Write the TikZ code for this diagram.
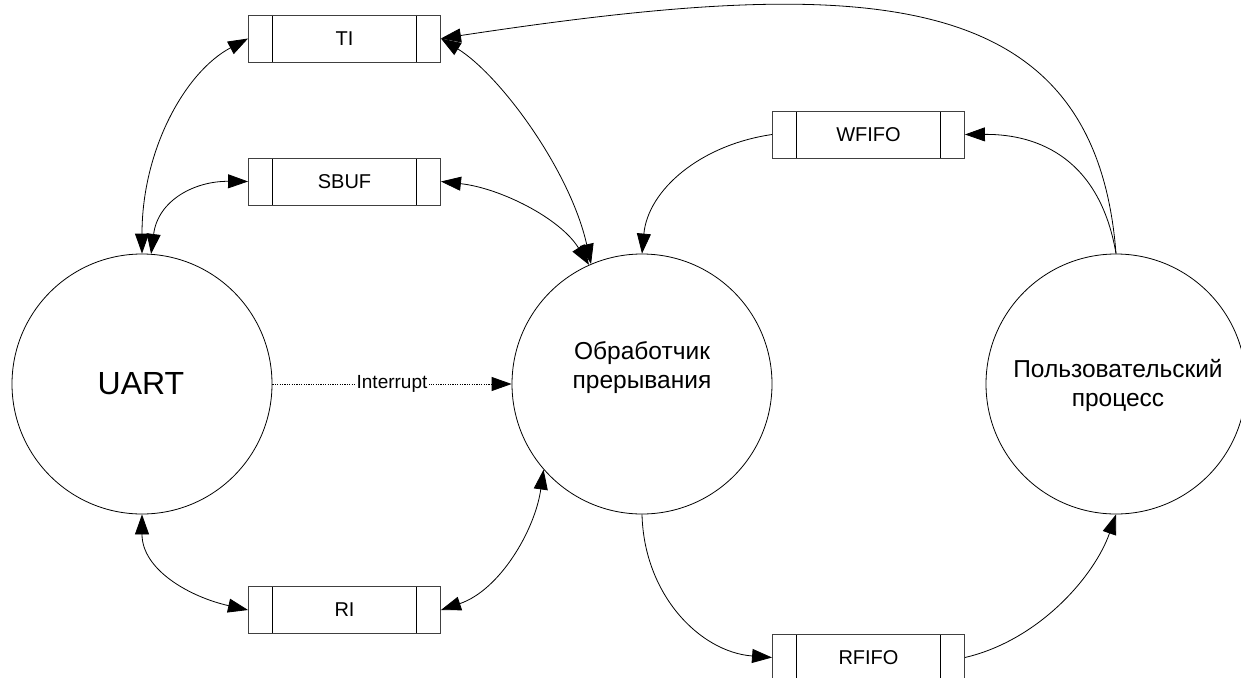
\documentclass[tikz,border=0pt]{standalone}
\usepackage{fontspec}
\setmainfont{Liberation Sans}
\usetikzlibrary{arrows.meta}
\begin{document}
\begin{tikzpicture}[x=1pt,y=-1pt,
  proc/.style={draw=black,line width=0.8pt,circle,minimum size=260pt,inner sep=0pt},
  ptext/.style={align=center,font=\fontsize{24.5}{29}\selectfont},
  store/.style={draw=black!75,line width=0.9pt,rectangle,minimum width=192pt,minimum height=47pt,inner sep=0pt,
    font=\fontsize{20}{24}\selectfont,
    path picture={
      \draw[black,line width=0.9pt] ([xshift=24pt]path picture bounding box.north west) -- ([xshift=24pt]path picture bounding box.south west);
      \draw[black,line width=0.9pt] ([xshift=-24pt]path picture bounding box.north east) -- ([xshift=-24pt]path picture bounding box.south east);}},
  tip/.tip={Triangle[length=20pt,width=14pt]},
  flow/.style={line width=0.8pt,-tip},
  dbl/.style={line width=0.8pt,tip-tip},
  sig/.style={line width=0.8pt,dash pattern=on 1.2pt off 1.2pt,-tip}
]
\useasboundingbox (0,0) rectangle (1241,677);

% processes
\node[proc] (uart) at (142,384) {};
\node[font=\fontsize{32}{36}\selectfont] (uarttext) at (141,384) {UART};
\node[proc] (isr) at (642,384) {};
\node[ptext] (isrtext) at (642,368) {Обработчик\\прерывания};
\node[proc] (user) at (1116,384) {};
\node[ptext] (usertext) at (1118,385) {Пользовательский\\процесс};

% data stores
\node[store] (ti) at (344.5,38.5) {TI};
\node[store] (sbuf) at (344.5,181.5) {SBUF};
\node[store] (ri) at (344.5,610) {RI};
\node[store] (wfifo) at (868.5,134.5) {WFIFO};
\node[store] (rfifo) at (868.5,657.5) {RFIFO};

% UART links
\draw[dbl] (ti.west) .. controls (185,72) and (142,150) .. (uart.north);
\draw[dbl] (sbuf.west) .. controls (195,181) and (158,200) .. (uart.86);
\draw[dbl] (uart.south) .. controls (142,570) and (190,597) .. (ri.west);

% ISR links
\draw[dbl] (ti.east) .. controls (500,75) and (570,170) .. (isr.113);
\draw[dbl] (sbuf.east) .. controls (500,188) and (560,218) .. (isr.114);
\draw[dbl] (isr.221) .. controls (535,530) and (500,590) .. (ri.east);
\draw[flow] (wfifo.west) .. controls (700,145) and (648,190) .. (isr.north);
\draw[flow] (isr.south) .. controls (644,595) and (700,652) .. (rfifo.west);

% user process links
\draw[flow] (user.north) .. controls (1095,-20) and (860,-25) .. (ti.east);
\draw[flow] (user.north) .. controls (1100,160) and (1040,134) .. (wfifo.east);
\draw[flow] (rfifo.east) .. controls (1040,640) and (1095,575) .. (user.south);

% interrupt
\draw[sig] (uart.east) -- node[fill=white,inner sep=2pt,font=\fontsize{19}{22}\selectfont] (intlabel) {Interrupt} (isr.west);
\end{tikzpicture}
\end{document}
